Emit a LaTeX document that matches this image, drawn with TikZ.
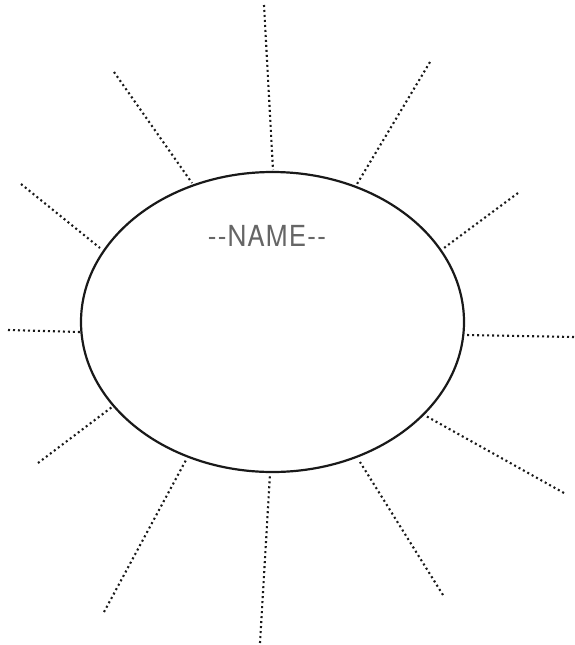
\documentclass[tikz,border=0pt]{standalone}
\usepackage{fontspec}
\newfontfamily\namefont[FakeStretch=0.9, LetterSpace=4]{TeX Gyre Heros}
\begin{document}
\begin{tikzpicture}[x=1pt,y=-1pt,
  ray/.style={line width=2.1pt, dash pattern=on 2pt off 3pt, black!90},
  blob/.style={draw, line width=2.2pt, black!90}]
\useasboundingbox (0,0) rectangle (574,645);
\draw[blob] (272.5,322) ellipse [x radius=191.5, y radius=150];
\node[text=black!60, font=\namefont\fontsize{29}{30}\selectfont] (name) at (267,236) {--NAME--};
% outer and inner ends
\coordinate (o1) at (264,5);    \coordinate (i1) at (273,170);
\coordinate (o2) at (430,62);   \coordinate (i2) at (357,184);
\coordinate (o3) at (518,193);  \coordinate (i3) at (444,248);
\coordinate (o4) at (574,337);  \coordinate (i4) at (466,335);
\coordinate (o5) at (564,493);  \coordinate (i5) at (426,416);
\coordinate (o6) at (443,595);  \coordinate (i6) at (360,462);
\coordinate (o7) at (260,643);  \coordinate (i7) at (270,474);
\coordinate (o8) at (104,612);  \coordinate (i8) at (186,460);
\coordinate (o9) at (38,463);   \coordinate (i9) at (112,407);
\coordinate (o10) at (8,330);   \coordinate (i10) at (80,332);
\coordinate (o11) at (21,184);  \coordinate (i11) at (100,248);
\coordinate (o12) at (114,72);  \coordinate (i12) at (192,183);
\foreach \k in {1,...,12} \draw[ray] (o\k) -- (i\k);
\end{tikzpicture}
\end{document}
